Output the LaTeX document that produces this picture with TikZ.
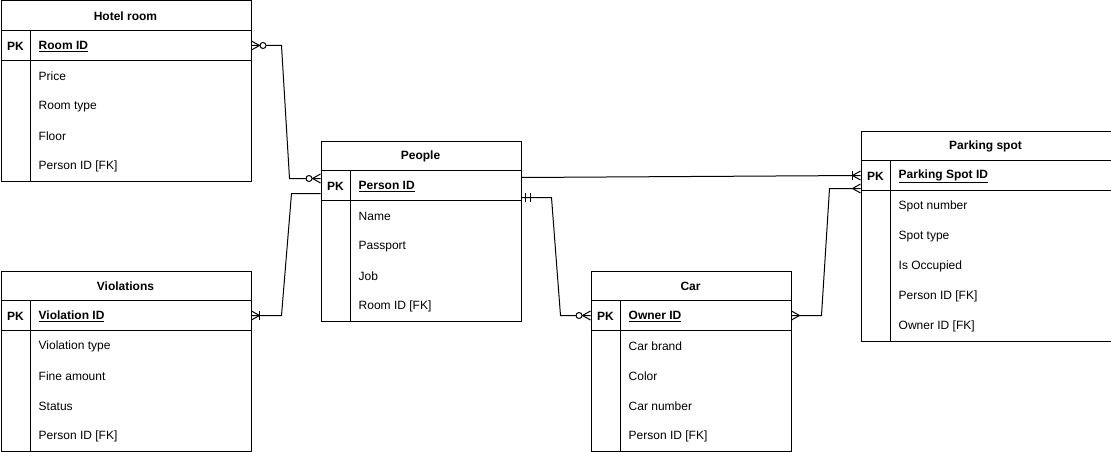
\documentclass[tikz,border=0pt]{standalone}
\usepackage{fontspec}
\setmainfont{Liberation Sans}
\tikzset{
  tbl/.style={draw=black, line width=1pt, fill=white, inner sep=0pt},
  ttl/.style={font=\fontsize{12}{14}\selectfont\bfseries, inner sep=0pt, yshift=-1pt},
  pkl/.style={font=\fontsize{12}{14}\selectfont\bfseries, inner sep=0pt, yshift=-1pt},
  keyl/.style={font=\fontsize{12}{14}\selectfont\bfseries, inner sep=0pt, anchor=west, yshift=-1pt},
  rowl/.style={font=\fontsize{12}{14}\selectfont, inner sep=0pt, anchor=west, yshift=-1pt},
  conn/.style={draw=black, line width=1pt},
  mk/.style={draw=black, line width=1pt},
}
% name, x, y(top), width, height, title, key, rows
\newcommand{\ertable}[8]{%
  \node[tbl, anchor=north west, minimum width=#4pt, minimum height=#5pt] (#1) at (#2,#3) {};
  \draw[line width=1pt] (#2,#3+30) -- (#2+#4,#3+30);
  \draw[line width=1pt] (#2,#3+60) -- (#2+#4,#3+60);
  \draw[line width=1pt] (#2+30,#3+30) -- (#2+30,#3+#5);
  \coordinate (#1-k) at (#2,#3+45);
  \node[ttl] (#1-title) at (#2+#4/2,#3+15) {#6};
  \node[pkl] (#1-pk) at (#2+15,#3+45) {PK};
  \node[keyl] (#1-key) at (#2+38,#3+45) {\underline{#7}};
  \foreach \r [count=\i] in {#8} {\node[rowl] (#1-r\i) at (#2+38,#3+45+30*\i) {\r};}
}
% markers: #1 coordinate, #2 direction (+1 line leaves to the right, -1 to the left)
\newcommand{\crowfoot}[2]{\begin{scope}[shift={(#1)}, xscale=#2]
  \draw[mk] (8,0) -- (0,4.5) (8,0) -- (0,-4.5);\end{scope}}
\newcommand{\zerocirc}[2]{\begin{scope}[shift={(#1)}, xscale=#2]
  \draw[mk, fill=white] (11.5,0) circle[radius=3];\end{scope}}
\newcommand{\onebar}[3]{\begin{scope}[shift={(#1)}, xscale=#2]
  \draw[mk] (#3,4.5) -- (#3,-4.5);\end{scope}}
\begin{document}
\begin{tikzpicture}[x=1pt, y=-1pt]
\useasboundingbox (0,0) rectangle (1111,452);
\ertable{hotel}{0.5}{0.5}{250}{180}{Hotel room}{Room ID}{{Price},{Room type},{Floor},{Person ID [FK]}}
\ertable{people}{320.5}{140.5}{200}{180}{People}{Person ID}{{Name},{Passport},{Job},{Room ID [FK]}}
\ertable{viol}{0.5}{270.5}{250}{180}{Violations}{Violation ID}{{Violation type},{Fine amount},{Status},{Person ID [FK]}}
\ertable{car}{590.5}{270.5}{200}{180}{Car}{Owner ID}{{Car brand},{Color},{Car number},{Person ID [FK]}}
\ertable{park}{860.5}{130.5}{250}{210}{Parking spot}{Parking Spot ID}{{Spot number},{Spot type},{Is Occupied},{Person ID [FK]},{Owner ID [FK]}}

% connector end points on table borders (yshift: positive = up)
\coordinate (hotelE) at (hotel.east |- hotel-k);
\coordinate (peopleW1) at ([yshift=7pt]people.west |- people-k);
\coordinate (violE) at (viol.east |- viol-k);
\coordinate (peopleW2) at ([yshift=-8pt]people.west |- people-k);
\coordinate (peopleE1) at ([yshift=-12pt]people.east |- people-k);
\coordinate (carW) at (car.west |- car-k);
\coordinate (peopleE2) at ([yshift=8pt]people.east |- people-k);
\coordinate (parkW1) at (park.west |- park-k);
\coordinate (carE) at (car.east |- car-k);
\coordinate (parkW2) at ([yshift=-13pt]park.west |- park-k);

% connectors
\draw[conn] (hotelE) -- ++(30,0) -- ([xshift=-31pt]peopleW1) -- (peopleW1);
\draw[conn] (violE) -- ++(30,0) -- ([xshift=-29pt]peopleW2) -- (peopleW2);
\draw[conn] (peopleE1) -- ++(30,0) -- ([xshift=-30pt]carW) -- (carW);
\draw[conn] (peopleE2) -- (parkW1);
\draw[conn] (carE) -- ++(30,0) -- ([xshift=-31pt]parkW2) -- (parkW2);

% markers
\crowfoot{hotelE}{1}\zerocirc{hotelE}{1}
\crowfoot{peopleW1}{-1}\zerocirc{peopleW1}{-1}
\crowfoot{violE}{1}\onebar{violE}{1}{8}
\onebar{peopleE1}{1}{4}\onebar{peopleE1}{1}{9}
\crowfoot{carW}{-1}\zerocirc{carW}{-1}
\crowfoot{parkW1}{-1}\onebar{parkW1}{-1}{8}
\crowfoot{carE}{1}
\crowfoot{parkW2}{-1}
\end{tikzpicture}
\end{document}
